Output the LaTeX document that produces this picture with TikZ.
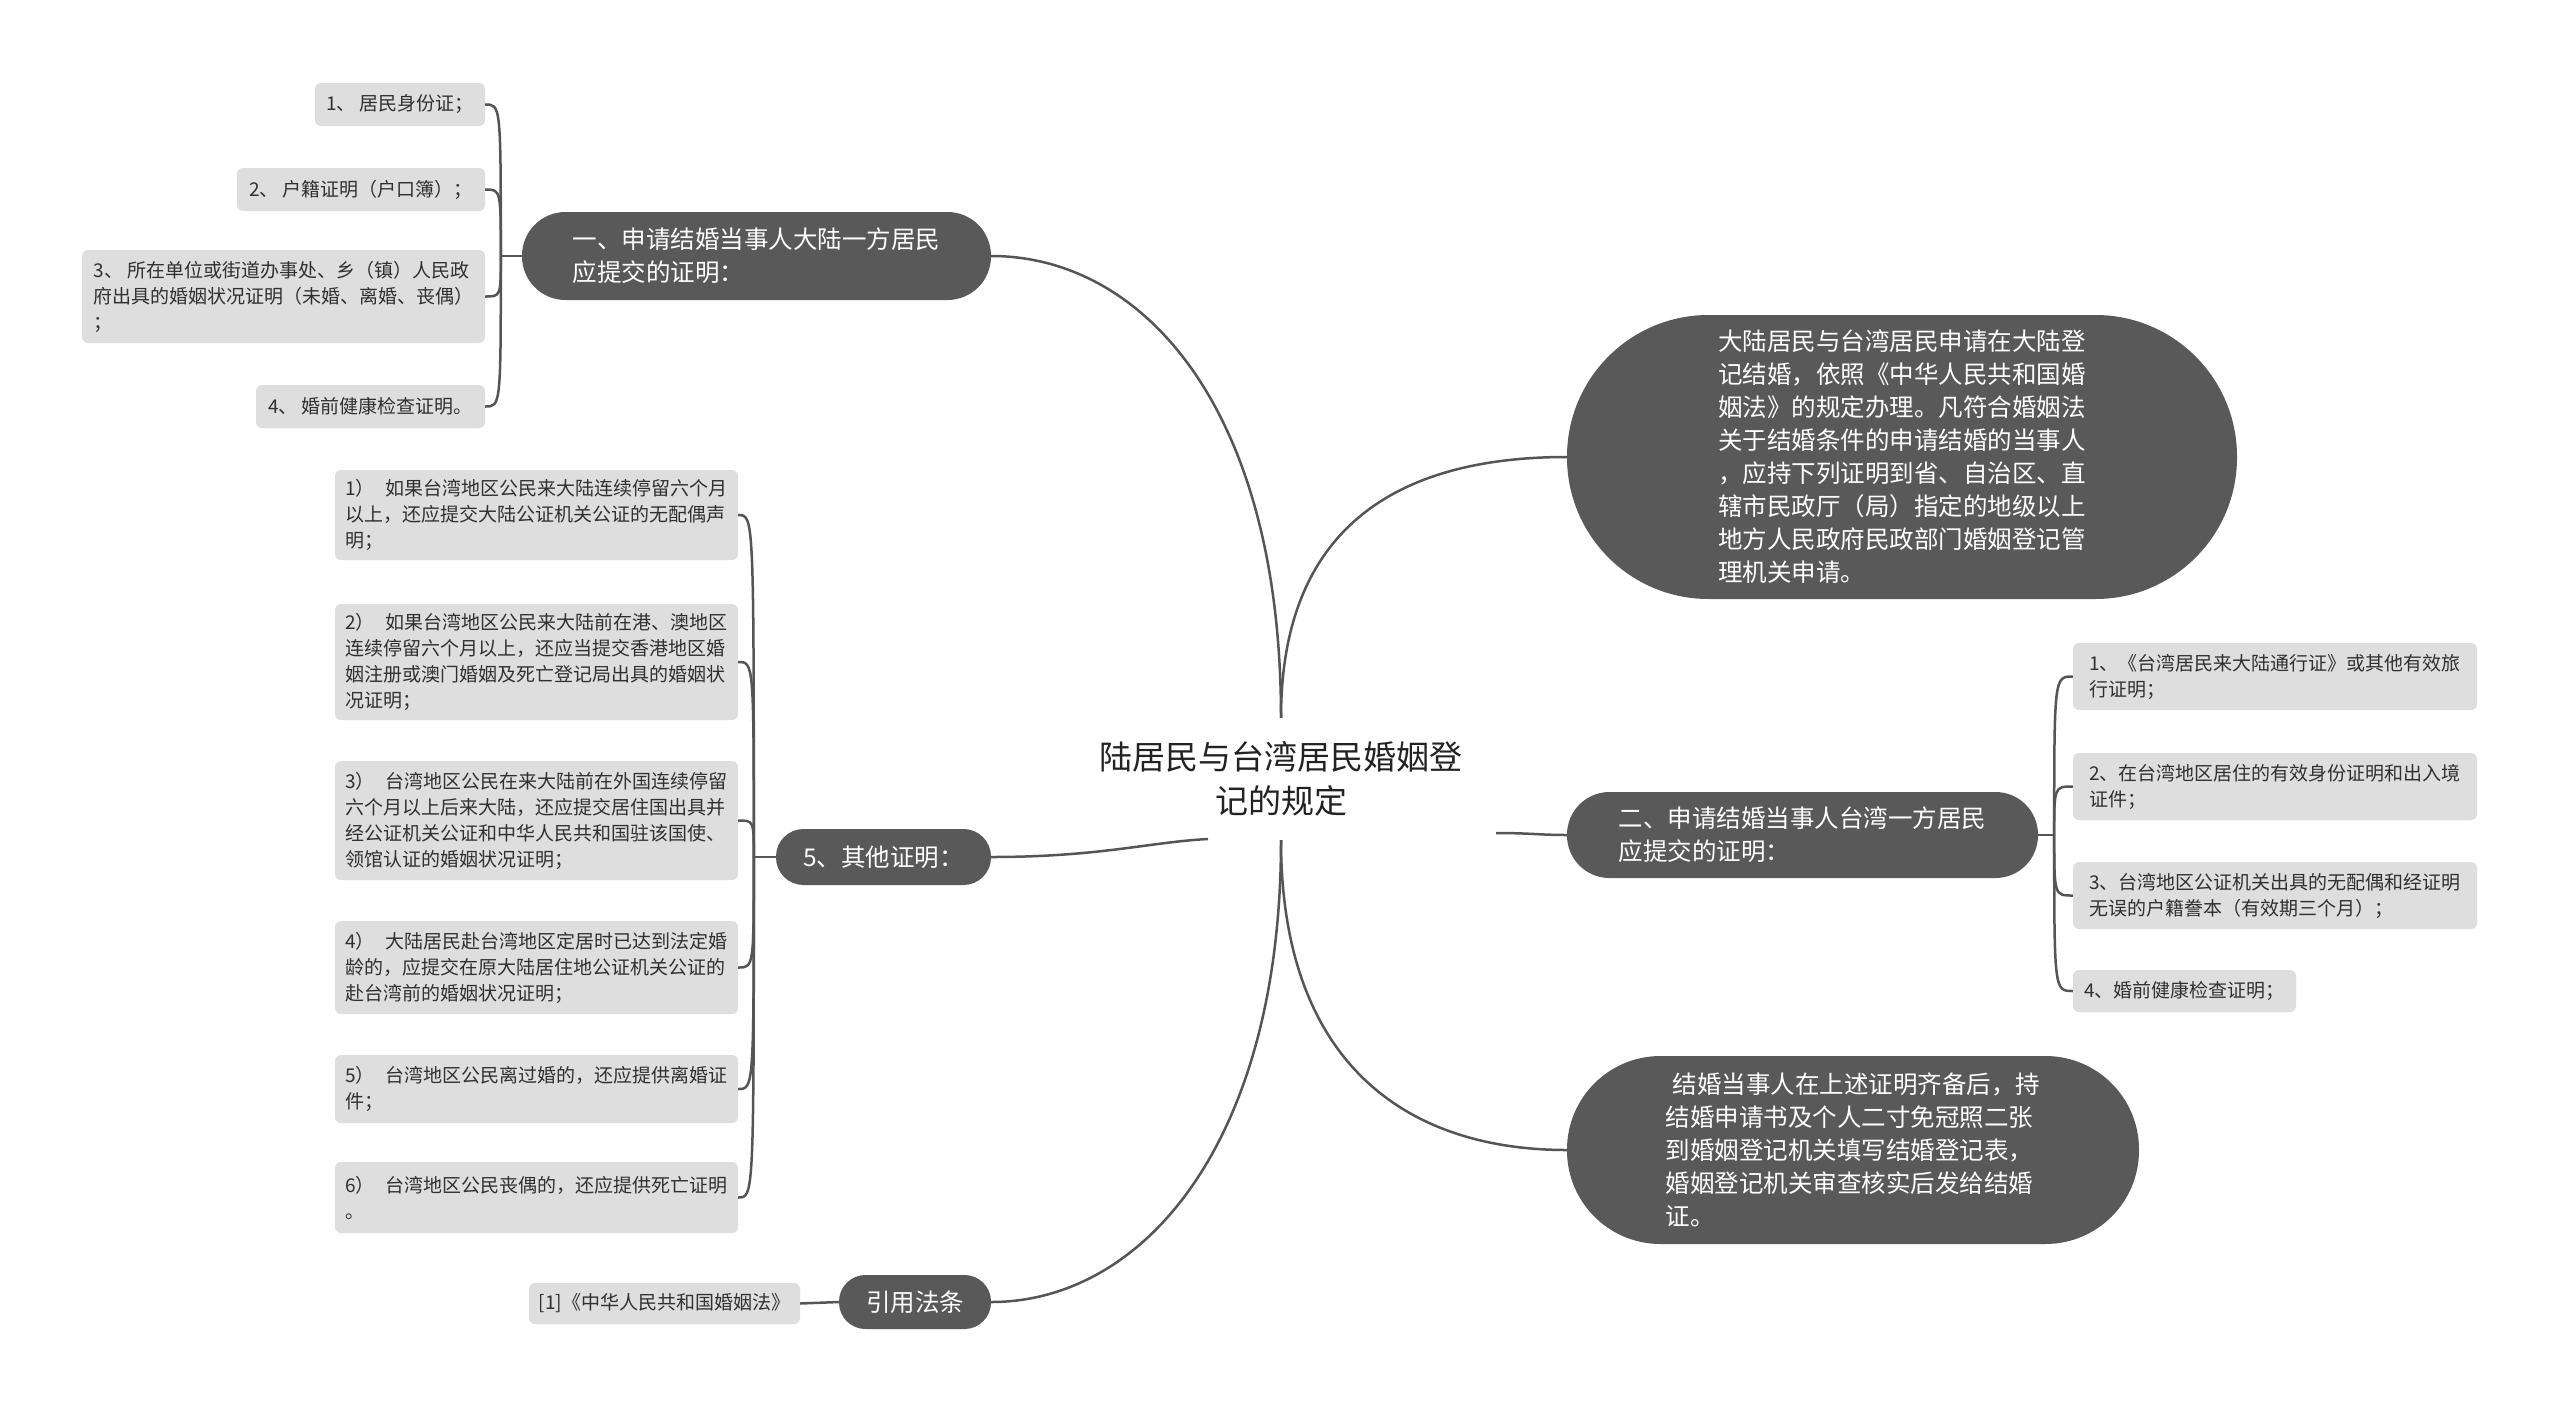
\documentclass[tikz,border=0pt]{standalone}
\usepackage{fontspec}
\setmainfont{Noto Sans CJK SC}
\definecolor{darkc}{HTML}{595959}
\definecolor{lightc}{HTML}{DEDEDE}
\definecolor{linec}{HTML}{555555}
\definecolor{textc}{HTML}{303030}
\definecolor{titlec}{HTML}{222222}
\tikzset{
  darkbox/.style={fill=darkc, text=white, font=\fontsize{24.5}{33}\selectfont, align=left, inner sep=0pt},
  lightbox/.style={fill=lightc, text=textc, font=\fontsize{19}{26}\selectfont, align=left, inner sep=0pt, rounded corners=6pt},
  conn/.style={draw=linec, line width=2.5pt},
}
\begin{document}
\begin{tikzpicture}[x=1pt,y=-1pt]
\fill[white] (0,0) rectangle (2560,1414);
\useasboundingbox (0,0) rectangle (2560,1414);

% root
\node[font=\fontsize{33}{44}\selectfont, text=titlec, align=center, minimum height=122pt, inner sep=0pt] (root) at (1281,779) {陆居民与台湾居民婚姻登\\记的规定};
\coordinate (rootL) at (1208,839);
\coordinate (rootR) at (1496,833);

% main branches
\node[darkbox, minimum width=469pt, minimum height=88pt, rounded corners=43.5pt] (n1) at (756.5,256) {一、申请结婚当事人大陆一方居民\\应提交的证明：};
\node[darkbox, minimum width=215pt, minimum height=56pt, rounded corners=27.5pt] (n5) at (883.5,857) {5、其他证明：};
\node[darkbox, minimum width=152pt, minimum height=54pt, rounded corners=26.5pt] (nref) at (915,1302) {引用法条};
\node[darkbox, minimum width=670pt, minimum height=284pt, rounded corners=141.5pt] (nA) at (1902,457) {大陆居民与台湾居民申请在大陆登\\记结婚，依照《中华人民共和国婚\\姻法》的规定办理。凡符合婚姻法\\关于结婚条件的申请结婚的当事人\\，应持下列证明到省、自治区、直\\辖市民政厅（局）指定的地级以上\\地方人民政府民政部门婚姻登记管\\理机关申请。};
\node[darkbox, minimum width=471pt, minimum height=86pt, rounded corners=42.5pt] (n2) at (1802.5,835) {二、申请结婚当事人台湾一方居民\\应提交的证明：};
\node[darkbox, minimum width=572pt, minimum height=188pt, rounded corners=93.5pt] (nB) at (1853,1150) {\hspace*{0.3em}结婚当事人在上述证明齐备后，持\\结婚申请书及个人二寸免冠照二张\\到婚姻登记机关填写结婚登记表，\\婚姻登记机关审查核实后发给结婚\\证。};

% children of n1
\node[lightbox, minimum width=170pt, minimum height=43pt] (c11) at (400,104.5) {1、\ 居民身份证；};
\node[lightbox, minimum width=248pt, minimum height=43pt] (c12) at (361,189.5) {2、\ 户籍证明（户口簿）；};
\node[lightbox, minimum width=403pt, minimum height=93pt] (c13) at (283.5,296.5) {3、\ 所在单位或街道办事处、乡（镇）人民政\\府出具的婚姻状况证明（未婚、离婚、丧偶）\\；};
\node[lightbox, minimum width=229pt, minimum height=43pt] (c14) at (370.5,406.5) {4、\ 婚前健康检查证明。};

% children of n5
\node[lightbox, minimum width=403pt, minimum height=90pt] (c51) at (536.5,515) {1）\hspace{0.6em}如果台湾地区公民来大陆连续停留六个月\\以上，还应提交大陆公证机关公证的无配偶声\\明；};
\node[lightbox, minimum width=403pt, minimum height=116pt] (c52) at (536.5,662) {2）\hspace{0.6em}如果台湾地区公民来大陆前在港、澳地区\\连续停留六个月以上，还应当提交香港地区婚\\姻注册或澳门婚姻及死亡登记局出具的婚姻状\\况证明；};
\node[lightbox, minimum width=403pt, minimum height=119pt] (c53) at (536.5,820.5) {3）\hspace{0.6em}台湾地区公民在来大陆前在外国连续停留\\六个月以上后来大陆，还应提交居住国出具并\\经公证机关公证和中华人民共和国驻该国使、\\领馆认证的婚姻状况证明；};
\node[lightbox, minimum width=403pt, minimum height=93pt] (c54) at (536.5,967.5) {4）\hspace{0.6em}大陆居民赴台湾地区定居时已达到法定婚\\龄的，应提交在原大陆居住地公证机关公证的\\赴台湾前的婚姻状况证明；};
\node[lightbox, minimum width=403pt, minimum height=68pt] (c55) at (536.5,1089) {5）\hspace{0.6em}台湾地区公民离过婚的，还应提供离婚证\\件；};
\node[lightbox, minimum width=403pt, minimum height=71pt] (c56) at (536.5,1197.5) {6）\hspace{0.6em}台湾地区公民丧偶的，还应提供死亡证明\\。};

% child of ref
\node[lightbox, minimum width=271pt, minimum height=41pt] (cref) at (664.5,1303.5) {[1]《中华人民共和国婚姻法》};

% children of n2
\node[lightbox, minimum width=404pt, minimum height=67pt] (c21) at (2275,676.5) {1、《台湾居民来大陆通行证》或其他有效旅\\行证明；};
\node[lightbox, minimum width=404pt, minimum height=67pt] (c22) at (2275,786.5) {2、在台湾地区居住的有效身份证明和出入境\\证件；};
\node[lightbox, minimum width=404pt, minimum height=67pt] (c23) at (2275,895.5) {3、台湾地区公证机关出具的无配偶和经证明\\无误的户籍誊本（有效期三个月）；};
\node[lightbox, minimum width=223pt, minimum height=42pt] (c24) at (2184.5,991) {4、婚前健康检查证明；};

% root connectors
\draw[conn] (root.north) .. controls (1281,408) and (1143,256) .. (n1.east);
\draw[conn] (root.north) .. controls (1281,522) and (1404,457) .. (nA.west);
\draw[conn] (root.south) .. controls (1281,1061) and (1404,1150) .. (nB.west);
\draw[conn] (root.south) .. controls (1281,1143) and (1143,1302) .. (nref.east);
\draw[conn] (n5.east) .. controls (1100,857) and (1150,842) .. (rootL);
\draw[conn] (rootR) .. controls (1530,833) and (1540,835) .. (n2.west);

% n1 bracket
\coordinate (j1) at ([xshift=-21pt]n1.west);
\draw[conn] (n1.west) -- (j1);
\foreach \c in {c11,c12,c13,c14}
  \draw[conn] (j1) .. controls (j1 |- \c.east) and (j1 |- \c.east) .. (\c.east);

% n5 bracket
\coordinate (j5) at ([xshift=-22pt]n5.west);
\draw[conn] (n5.west) -- (j5);
\foreach \c in {c51,c52,c53,c54,c55,c56}
  \draw[conn] (j5) .. controls (j5 |- \c.east) and (j5 |- \c.east) .. (\c.east);

% ref
\draw[conn] (nref.west) -- (cref.east);

% n2 bracket
\coordinate (j2) at ([xshift=16pt]n2.east);
\draw[conn] (n2.east) -- (j2);
\foreach \c in {c21,c22,c23,c24}
  \draw[conn] (j2) .. controls (j2 |- \c.west) and (j2 |- \c.west) .. (\c.west);
\end{tikzpicture}
\end{document}
